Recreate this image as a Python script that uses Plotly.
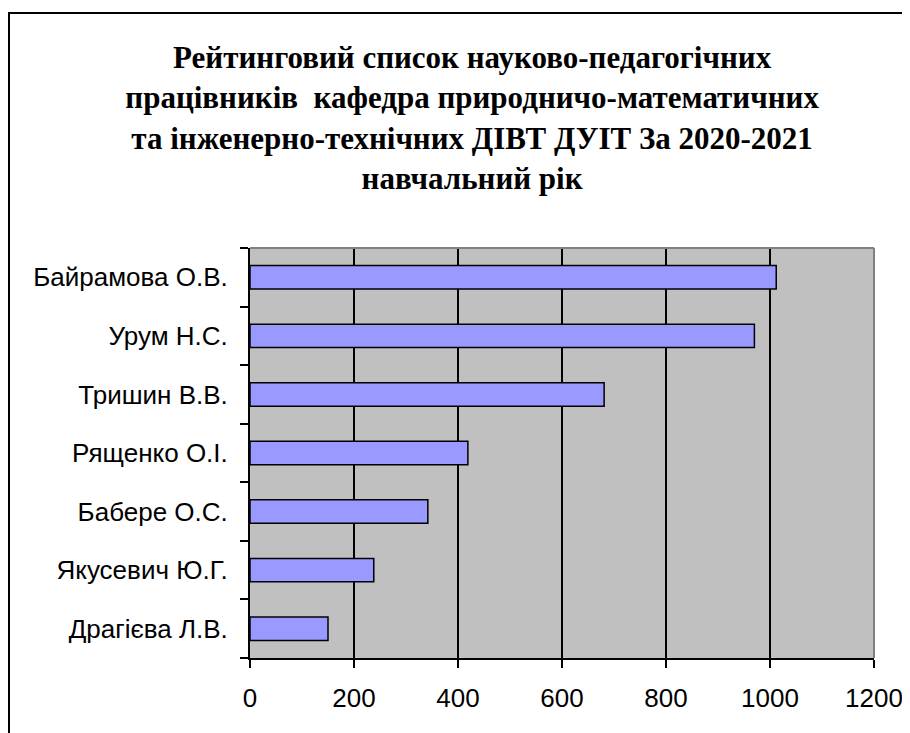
import plotly.graph_objects as go

names = ["Драгієва Л.В.", "Якусевич Ю.Г.", "Бабере О.С.", "Рященко О.І.",
         "Тришин В.В.", "Урум Н.С.", "Байрамова О.В."]
values = [150, 238, 342, 419, 681, 970, 1012]
x_ticks = [0, 200, 400, 600, 800, 1000, 1200]
title_lines = ["Рейтинговий список науково-педагогічних",
               "працівників  кафедра природничо-математичних",
               "та інженерно-технічних ДІВТ ДУІТ За 2020-2021",
               "навчальний рік"]

fig = go.Figure(go.Bar(
    x=values, y=names, orientation="h", width=0.4,
    marker=dict(color="#9999ff", line=dict(color="black", width=1.5)),
))

fig.update_layout(
    width=910, height=733,
    margin=dict(l=242, r=44, t=240, b=83, autoexpand=False),
    paper_bgcolor="white", plot_bgcolor="#c0c0c0",
    showlegend=False,
    title=dict(text="<br>".join(title_lines).replace("  ", "&nbsp; "),
               x=0.51, xanchor="center", xref="container",
               y=1 - 60 / 733, yanchor="top", yref="container",
               font=dict(family="Liberation Serif", size=31, color="black", weight="bold")),
    font=dict(family="Liberation Sans", size=26, color="black"),
)

fig.update_xaxes(range=[0, 1200], tickvals=x_ticks, ticktext=[str(v) for v in x_ticks],
                 showgrid=True, gridcolor="black", gridwidth=1.5,
                 showline=True, linecolor="black", linewidth=2,
                 ticks="outside", ticklen=8, tickcolor="black", tickwidth=1.5,
                 ticklabelstandoff=8, zeroline=False, automargin=False)
fig.update_yaxes(type="category", tickson="boundaries", showgrid=False,
                 showline=True, linecolor="black", linewidth=2,
                 ticks="outside", ticklen=8, tickcolor="black", tickwidth=1.5,
                 ticklabelstandoff=15, zeroline=False, automargin=False)

# plot-area top/right border (grey) and outer chart border
fig.add_shape(type="line", xref="paper", yref="paper", x0=0, x1=1, y0=1, y1=1,
              line=dict(color="#808080", width=2), layer="above")
fig.add_shape(type="line", xref="paper", yref="paper", x0=1, x1=1, y0=0, y1=1,
              line=dict(color="#808080", width=2), layer="above")
fig.add_shape(type="rect", xref="paper", yref="paper",
              x0=(1 - 242) / 624, x1=1.2, y0=-0.3, y1=(650 - 5) / 410,
              line=dict(color="black", width=2), layer="below")

fig.write_html("out.html")
